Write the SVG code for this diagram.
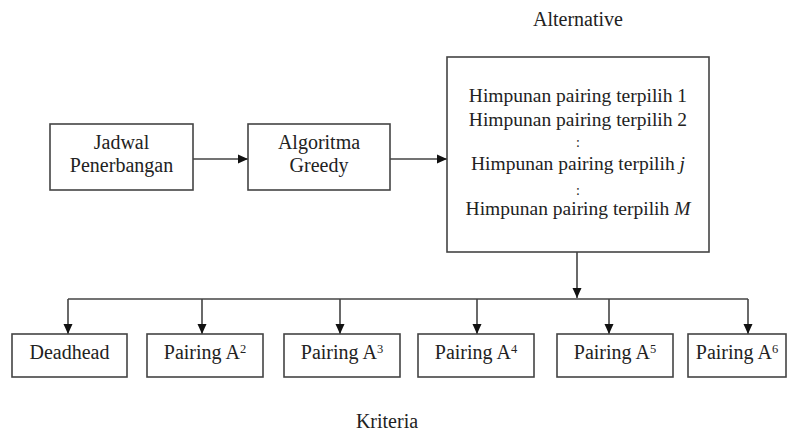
<svg xmlns="http://www.w3.org/2000/svg" width="796" height="434" viewBox="0 0 796 434">
<style>
.b{fill:#fff;stroke:#444;stroke-width:1.6}
.l{fill:none;stroke:#444;stroke-width:1.6}
text{font-family:"Liberation Serif","Times New Roman",serif;font-size:20px;fill:#222;text-anchor:middle}
.h{font-size:19.5px}
.s{font-size:12.5px}
.c{font-size:14px}
</style>
<defs>
<marker id="a" viewBox="0 0 10 10" refX="10" refY="5" markerWidth="10" markerHeight="10" markerUnits="userSpaceOnUse" orient="auto">
<path d="M0,0.5 L10,5 L0,9.5 Z" fill="#111"/>
</marker>
</defs>
<rect width="796" height="434" fill="#fff"/>
<text x="578" y="26">Alternative</text>
<text x="387" y="428">Kriteria</text>
<g id="connectors">
<line class="l" x1="193" y1="159" x2="248" y2="159" marker-end="url(#a)"/>
<line class="l" x1="390" y1="159" x2="447" y2="159" marker-end="url(#a)"/>
<line class="l" x1="577" y1="252" x2="577" y2="298" marker-end="url(#a)"/>
<line class="l" x1="68" y1="299" x2="748" y2="299"/>
<line class="l" x1="68" y1="299" x2="68" y2="334" marker-end="url(#a)"/>
<line class="l" x1="202" y1="299" x2="202" y2="334" marker-end="url(#a)"/>
<line class="l" x1="340" y1="299" x2="340" y2="334" marker-end="url(#a)"/>
<line class="l" x1="477" y1="299" x2="477" y2="334" marker-end="url(#a)"/>
<line class="l" x1="609" y1="299" x2="609" y2="334" marker-end="url(#a)"/>
<line class="l" x1="748" y1="299" x2="748" y2="334" marker-end="url(#a)"/>
</g>
<g id="jadwal">
<rect class="b" x="50" y="124" width="143" height="66"/>
<text x="121.5" y="149">Jadwal</text>
<text x="121.5" y="172">Penerbangan</text>
</g>
<g id="algoritma">
<rect class="b" x="248" y="124" width="142" height="66"/>
<text x="319" y="149">Algoritma</text>
<text x="319" y="172">Greedy</text>
</g>
<g id="alternative">
<rect class="b" x="447" y="57" width="262" height="195"/>
<text class="h" x="578" y="102">Himpunan pairing terpilih 1</text>
<text class="h" x="578" y="126">Himpunan pairing terpilih 2</text>
<text x="578" y="147" class="c">:</text>
<text class="h" x="578" y="170">Himpunan pairing terpilih <tspan font-style="italic">j</tspan></text>
<text x="578" y="195" class="c">:</text>
<text class="h" x="578" y="215">Himpunan pairing terpilih <tspan font-style="italic">M</tspan></text>
</g>
<g id="deadhead">
<rect class="b" x="12" y="334" width="115" height="43"/>
<text x="69.5" y="359">Deadhead</text>
</g>
<g id="a2">
<rect class="b" x="147" y="334" width="116" height="43"/>
<text x="205" y="359">Pairing A<tspan class="s" dy="-6.5">2</tspan></text>
</g>
<g id="a3">
<rect class="b" x="284" y="334" width="116" height="43"/>
<text x="342" y="359">Pairing A<tspan class="s" dy="-6.5">3</tspan></text>
</g>
<g id="a4">
<rect class="b" x="418" y="334" width="116" height="43"/>
<text x="476" y="359">Pairing A<tspan class="s" dy="-6.5">4</tspan></text>
</g>
<g id="a5">
<rect class="b" x="557" y="334" width="116" height="43"/>
<text x="615" y="359">Pairing A<tspan class="s" dy="-6.5">5</tspan></text>
</g>
<g id="a6">
<rect class="b" x="688" y="334" width="98" height="43"/>
<text x="737" y="359">Pairing A<tspan class="s" dy="-6.5">6</tspan></text>
</g>
</svg>
